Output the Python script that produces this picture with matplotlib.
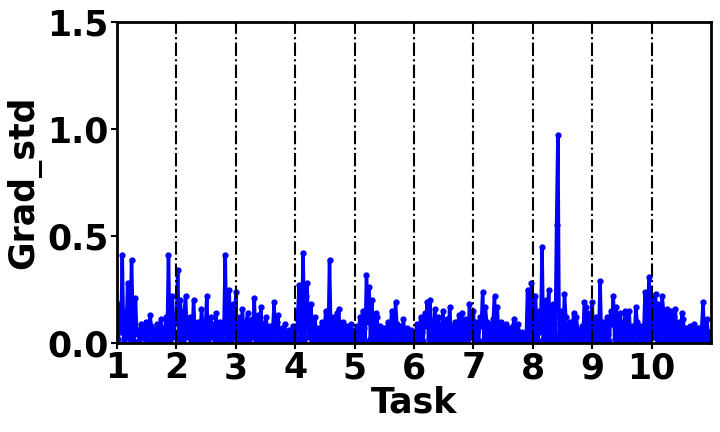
import numpy as np
import matplotlib
matplotlib.use("Agg")
import matplotlib.pyplot as plt

# grad std samples per task
task1 = [0.12, 0.02, 0.18, 0.05, 0.41, 0.01, 0.15, 0.03, 0.28, 0.08, 0.02, 0.39, 0.12, 0.01, 0.21,
         0.04, 0.06, 0.01, 0.09, 0.03, 0.07, 0.02, 0.10, 0.05, 0.01, 0.13, 0.08, 0.02, 0.06, 0.01,
         0.09, 0.04, 0.02, 0.11, 0.07, 0.01, 0.03, 0.12, 0.02, 0.41, 0.01, 0.15, 0.22, 0.03, 0.10]
task2 = [0.10, 0.34, 0.02, 0.20, 0.05, 0.01, 0.15, 0.22, 0.03, 0.08, 0.12, 0.01, 0.03, 0.20, 0.06,
         0.02, 0.10, 0.04, 0.01, 0.16, 0.08, 0.02, 0.07, 0.22, 0.01, 0.05, 0.12, 0.03, 0.09, 0.01,
         0.14, 0.06, 0.02, 0.10, 0.04, 0.01, 0.08, 0.41, 0.02, 0.08, 0.25, 0.01, 0.12, 0.18, 0.03]
task3 = [0.24, 0.02, 0.08, 0.12, 0.01, 0.16, 0.05, 0.02, 0.10, 0.14, 0.01, 0.06, 0.11, 0.03, 0.21,
         0.01, 0.07, 0.13, 0.02, 0.17, 0.05, 0.01, 0.09, 0.12, 0.02, 0.04, 0.08, 0.01, 0.06, 0.19,
         0.02, 0.10, 0.13, 0.01, 0.04, 0.07, 0.02, 0.09, 0.03, 0.01, 0.06, 0.05, 0.01, 0.08, 0.02]
task4 = [0.06, 0.01, 0.15, 0.27, 0.02, 0.10, 0.42, 0.01, 0.22, 0.28, 0.03, 0.05, 0.18, 0.01, 0.08,
         0.12, 0.02, 0.04, 0.07, 0.01, 0.10, 0.06, 0.02, 0.15, 0.09, 0.01, 0.39, 0.05, 0.02, 0.12,
         0.08, 0.01, 0.14, 0.16, 0.02, 0.06, 0.10, 0.01, 0.04, 0.08, 0.02, 0.05, 0.09, 0.01, 0.06]
task5 = [0.05, 0.01, 0.08, 0.03, 0.12, 0.02, 0.15, 0.07, 0.01, 0.32, 0.10, 0.26, 0.02, 0.20, 0.05,
         0.01, 0.14, 0.12, 0.02, 0.08, 0.04, 0.01, 0.07, 0.06, 0.02, 0.10, 0.03, 0.01, 0.15, 0.06,
         0.02, 0.19, 0.09, 0.01, 0.05, 0.08, 0.02, 0.11, 0.04, 0.01, 0.07, 0.03, 0.02, 0.06, 0.01]
task6 = [0.04, 0.01, 0.09, 0.06, 0.02, 0.12, 0.05, 0.01, 0.14, 0.08, 0.19, 0.02, 0.20, 0.10, 0.01,
         0.06, 0.16, 0.02, 0.12, 0.04, 0.01, 0.09, 0.15, 0.02, 0.07, 0.11, 0.01, 0.17, 0.05, 0.02,
         0.08, 0.10, 0.01, 0.06, 0.13, 0.02, 0.14, 0.07, 0.01, 0.11, 0.05, 0.02, 0.18, 0.12, 0.03]
task7 = [0.15, 0.02, 0.10, 0.06, 0.01, 0.12, 0.08, 0.24, 0.02, 0.17, 0.10, 0.01, 0.05, 0.09, 0.02,
         0.11, 0.22, 0.01, 0.17, 0.06, 0.02, 0.10, 0.08, 0.01, 0.04, 0.09, 0.02, 0.07, 0.05, 0.01,
         0.08, 0.11, 0.02, 0.06, 0.09, 0.01, 0.04, 0.05, 0.02, 0.03, 0.01, 0.25, 0.08, 0.02, 0.28]
task8 = [0.12, 0.02, 0.22, 0.08, 0.01, 0.15, 0.05, 0.45, 0.02, 0.10, 0.20, 0.01, 0.25, 0.06, 0.02,
         0.18, 0.09, 0.01, 0.55, 0.97, 0.02, 0.15, 0.08, 0.01, 0.23, 0.12, 0.02, 0.05, 0.10, 0.01,
         0.07, 0.14, 0.02, 0.12, 0.06, 0.01, 0.04, 0.08, 0.02, 0.19, 0.17, 0.01, 0.14, 0.12, 0.02]
task9 = [0.19, 0.01, 0.08, 0.12, 0.02, 0.05, 0.29, 0.01, 0.10, 0.06, 0.02, 0.12, 0.04, 0.01, 0.15,
         0.09, 0.22, 0.02, 0.17, 0.07, 0.01, 0.14, 0.05, 0.02, 0.10, 0.15, 0.01, 0.06, 0.15, 0.02,
         0.08, 0.04, 0.01, 0.17, 0.10, 0.02, 0.05, 0.08, 0.01, 0.03, 0.24, 0.02, 0.12, 0.31, 0.02]
task10 = [0.22, 0.03, 0.12, 0.23, 0.02, 0.18, 0.08, 0.01, 0.22, 0.15, 0.02, 0.10, 0.16, 0.01, 0.06,
          0.15, 0.02, 0.12, 0.16, 0.01, 0.05, 0.10, 0.02, 0.14, 0.11, 0.01, 0.07, 0.04, 0.02, 0.08,
          0.06, 0.01, 0.09, 0.03, 0.02, 0.07, 0.05, 0.01, 0.08, 0.19, 0.02, 0.06, 0.11, 0.01, 0.05]

tasks = [task1, task2, task3, task4, task5, task6, task7, task8, task9, task10]
task_ticks = list(range(1, 11))

x = np.concatenate([t + np.arange(len(v)) / len(v) for t, v in zip(task_ticks, tasks)])
y = np.concatenate(tasks)

fig = plt.figure(figsize=(7.2, 4.32), dpi=100)
ax = fig.add_axes([0.1625, 0.206, 0.825, 0.743])
ax.plot(x, y, color='blue', lw=2.5, marker='o', markersize=3.5)
for t in task_ticks[1:]:
    ax.axvline(t, color='black', ls='-.', lw=1.5)

ax.set_xlim(1, 11)
ax.set_ylim(0, 1.5)
ax.set_xticks(task_ticks)
ax.set_yticks([0.0, 0.5, 1.0, 1.5])
for lab in ax.get_xticklabels() + ax.get_yticklabels():
    lab.set_fontsize(25)
    lab.set_fontweight('bold')
ax.tick_params(width=1.5, length=4, pad=2)
for s in ax.spines.values():
    s.set_linewidth(2)
ax.set_xlabel('Task', fontsize=25, fontweight='bold', labelpad=0)
ax.set_ylabel('Grad_std', fontsize=25, fontweight='bold', labelpad=4)

fig.savefig('out.png')
